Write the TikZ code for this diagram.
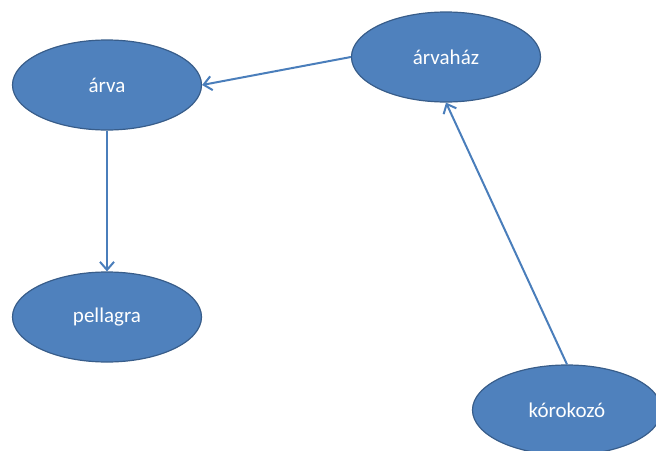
\documentclass[tikz,border=0pt]{standalone}
\usepackage{fontspec}
\setmainfont{Carlito}
\usetikzlibrary{shapes.geometric,arrows.meta}
\definecolor{nodefill}{HTML}{4F81BD}
\definecolor{nodeline}{HTML}{385D8A}
\definecolor{edgecol}{HTML}{4A7EBB}
\tikzset{
  concept/.style={ellipse, fill=nodefill, draw=nodeline, line width=1.2pt,
    minimum width=189pt, minimum height=90pt, inner sep=0pt,
    text=white, font=\fontsize{21}{25}\selectfont},
  link/.style={draw=edgecol, line width=2pt,
    -{Straight Barb[length=8pt,width=14pt,line width=2pt]}}
}
\begin{document}
\begin{tikzpicture}[x=1pt,y=-1pt]
\useasboundingbox (0,0) rectangle (656,450);
\node[concept] (arva) at (107,85) {árva};
\node[concept] (arvahaz) at (446,57) {árvaház};
\node[concept] (pellagra) at (107,317) {pellagra};
\node[concept] (korokozo) at (567,410) {kórokozó};
\draw[link] (arvahaz.west) -- (arva.east);
\draw[link] (arva.south) -- (pellagra.north);
\draw[link] (korokozo.north) -- (arvahaz.south);
\end{tikzpicture}
\end{document}
